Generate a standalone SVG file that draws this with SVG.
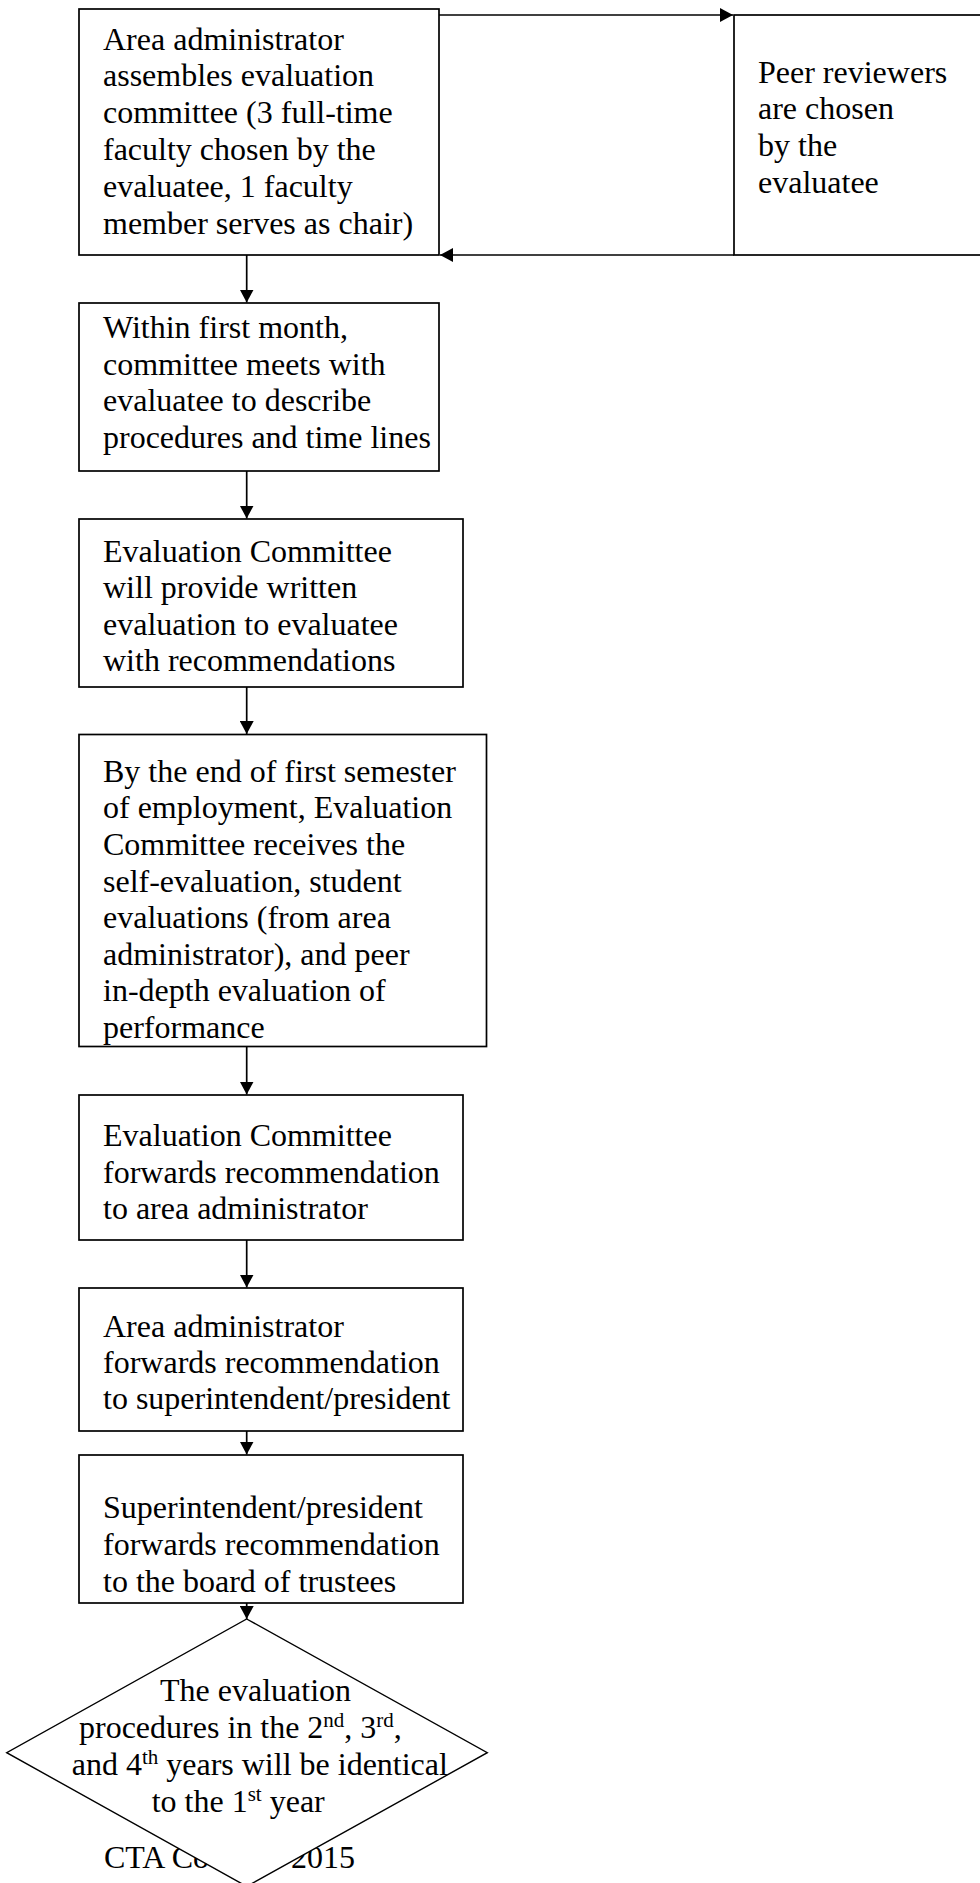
<svg xmlns="http://www.w3.org/2000/svg" width="980" height="1883" viewBox="0 0 980 1883">
<style>
.box{fill:#fff;stroke:#000;stroke-width:1.7}
.t{font-family:"Liberation Serif","Times New Roman",serif;font-size:32px;fill:#000}
.c{fill:none;stroke:#000;stroke-width:1.7}
.sup{font-size:21px}
</style>
<defs>
<marker id="ah" markerUnits="userSpaceOnUse" markerWidth="14" markerHeight="14" refX="13" refY="7" orient="auto">
<path d="M0,0 L13,7 L0,14 Z" fill="#000"/>
</marker>
</defs>
<rect width="980" height="1883" fill="#fff"/>
<g id="connectors">
<path class="c" d="M439,15 H733" marker-end="url(#ah)"/>
<path class="c" d="M734,255 H440" marker-end="url(#ah)"/>
<path class="c" d="M246.7,255 V302.5" marker-end="url(#ah)"/>
<path class="c" d="M246.7,471 V518.5" marker-end="url(#ah)"/>
<path class="c" d="M246.7,687 V734" marker-end="url(#ah)"/>
<path class="c" d="M246.7,1046.5 V1094.5" marker-end="url(#ah)"/>
<path class="c" d="M246.7,1240 V1287.5" marker-end="url(#ah)"/>
<path class="c" d="M246.7,1431 V1454.5" marker-end="url(#ah)"/>
<path class="c" d="M246.7,1603 V1619" marker-end="url(#ah)"/>
</g>
<g id="n1">
<rect class="box" x="79" y="9" width="360" height="246"/>
<text class="t" x="103" y="49.5">Area administrator</text>
<text class="t" x="103" y="86.3">assembles evaluation</text>
<text class="t" x="103" y="123.1">committee (3 full-time</text>
<text class="t" x="103" y="159.9">faculty chosen by the</text>
<text class="t" x="103" y="196.7">evaluatee, 1 faculty</text>
<text class="t" x="103" y="233.5">member serves as chair)</text>
</g>
<g id="peer">
<rect class="box" x="734" y="15" width="260" height="240"/>
<text class="t" x="758" y="82.7">Peer reviewers</text>
<text class="t" x="758" y="119.4">are chosen</text>
<text class="t" x="758" y="156">by the</text>
<text class="t" x="758" y="192.7">evaluatee</text>
</g>
<g id="n2">
<rect class="box" x="79" y="303" width="360" height="168"/>
<text class="t" x="103" y="338">Within first month,</text>
<text class="t" x="103" y="374.5">committee meets with</text>
<text class="t" x="103" y="411">evaluatee to describe</text>
<text class="t" x="103" y="447.5">procedures and time lines</text>
</g>
<g id="n3">
<rect class="box" x="79" y="519" width="384" height="168"/>
<text class="t" x="103" y="561.7">Evaluation Committee</text>
<text class="t" x="103" y="598.2">will provide written</text>
<text class="t" x="103" y="634.7">evaluation to evaluatee</text>
<text class="t" x="103" y="671.2">with recommendations</text>
</g>
<g id="n4">
<rect class="box" x="79" y="734.5" width="407.5" height="312"/>
<text class="t" x="103" y="781.7">By the end of first semester</text>
<text class="t" x="103" y="818.3">of employment, Evaluation</text>
<text class="t" x="103" y="854.9">Committee receives the</text>
<text class="t" x="103" y="891.5">self-evaluation, student</text>
<text class="t" x="103" y="928.1">evaluations (from area</text>
<text class="t" x="103" y="964.7">administrator), and peer</text>
<text class="t" x="103" y="1001.3">in-depth evaluation of</text>
<text class="t" x="103" y="1037.9">performance</text>
</g>
<g id="n5">
<rect class="box" x="79" y="1095" width="384" height="145"/>
<text class="t" x="103" y="1146">Evaluation Committee</text>
<text class="t" x="103" y="1182.5">forwards recommendation</text>
<text class="t" x="103" y="1219">to area administrator</text>
</g>
<g id="n6">
<rect class="box" x="79" y="1288" width="384" height="143"/>
<text class="t" x="103" y="1336.7">Area administrator</text>
<text class="t" x="103" y="1373">forwards recommendation</text>
<text class="t" x="103" y="1409.3">to superintendent/president</text>
</g>
<g id="n7">
<rect class="box" x="79" y="1455" width="384" height="148"/>
<text class="t" x="103" y="1518.3">Superintendent/president</text>
<text class="t" x="103" y="1555">forwards recommendation</text>
<text class="t" x="103" y="1591.7">to the board of trustees</text>
</g>
<g id="footer">
<text class="t" x="104" y="1868">CTA Co</text>
<text class="t" x="355" y="1868" text-anchor="end">2015</text>
</g>
<g id="n8">
<polygon class="box" style="stroke-width:1.4" points="246.7,1619 487.3,1752.7 246.7,1886.4 6.7,1752.7"/>
<text class="t" x="160" y="1701">The evaluation</text>
<text class="t" x="79" y="1738">procedures in the 2<tspan class="sup" dy="-11">nd</tspan><tspan dy="11">, 3</tspan><tspan class="sup" dy="-11">rd</tspan><tspan dy="11">,</tspan></text>
<text class="t" x="71.7" y="1775">and 4<tspan class="sup" dy="-11">th</tspan><tspan dy="11"> years will be identical</tspan></text>
<text class="t" x="151.7" y="1812">to the 1<tspan class="sup" dy="-11">st</tspan><tspan dy="11"> year</tspan></text>
</g>
</svg>
